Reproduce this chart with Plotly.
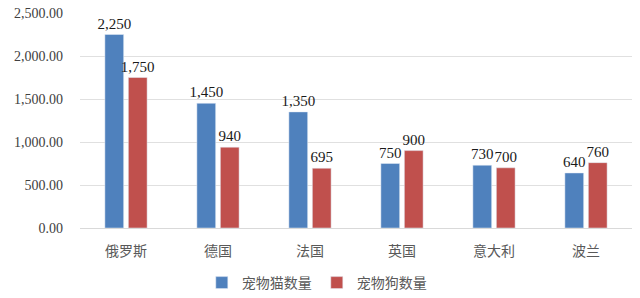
import plotly.graph_objects as go

countries = ["俄罗斯", "德国", "法国", "英国", "意大利", "波兰"]
cats = [2250, 1450, 1350, 750, 730, 640]
dogs = [1750, 940, 695, 900, 700, 760]

serif = "Liberation Serif"
cjk = "Noto Sans CJK SC"

fig = go.Figure()
fig.add_trace(go.Bar(x=countries, y=cats, name="宠物猫数量", marker_color="#4F81BD",
                     text=[f"{v:,}" for v in cats], textposition="outside", constraintext="none",
                     textfont=dict(family=serif, size=15, color="#1a1a1a"), cliponaxis=False))
fig.add_trace(go.Bar(x=countries, y=dogs, name="宠物狗数量", marker_color="#C0504D",
                     text=[f"{v:,}" for v in dogs], textposition="outside", constraintext="none",
                     textfont=dict(family=serif, size=15, color="#1a1a1a"), cliponaxis=False))

fig.update_layout(
    width=640, height=298,
    margin=dict(l=80, r=8, t=13, b=70, autoexpand=False),
    paper_bgcolor="white", plot_bgcolor="white",
    barmode="group", bargap=0.49, bargroupgap=0.2,
    showlegend=True,
    legend=dict(orientation="h", x=0.495, xref="container", xanchor="center",
                y=1 - 283 / 298, yref="container", yanchor="middle",
                font=dict(family=cjk, size=14, color="#595959"),
                traceorder="normal"),
    xaxis=dict(tickfont=dict(family=cjk, size=14, color="#595959"), showline=True,
               linecolor="#d9d9d9", ticks="", automargin=False, ticklabelstandoff=10),
    yaxis=dict(range=[0, 2500], dtick=500, tickformat=",.2f",
               tickfont=dict(family=serif, size=14, color="#404040"),
               gridcolor="#e0e0e0", zeroline=False, ticks="", automargin=False,
               ticklabelstandoff=16),
)
fig.write_html("out.html")
